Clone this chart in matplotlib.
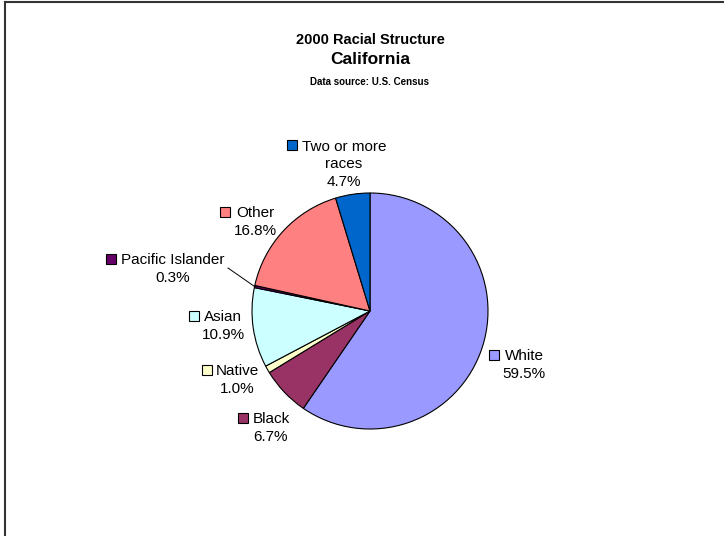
import numpy as np
import matplotlib
matplotlib.use("Agg")
import matplotlib.pyplot as plt
from matplotlib.lines import Line2D

plt.rcParams['font.family'] = ['Liberation Sans', 'DejaVu Sans']

# data (clockwise from 12 o'clock)
races = ["White", "Black", "Native", "Asian", "Pacific Islander", "Other", "Two or more\nraces"]
shares = [59.5, 6.7, 1.0, 10.9, 0.3, 16.8, 4.7]
colors = ["#9999FF", "#993366", "#FFFFCC", "#CCFFFF", "#660066", "#FF8080", "#0066CC"]

W, H = 724, 536

# label layout in pixels: text center x, first line y, key center x
label_pos = {
    "White": (524, 355, 494),
    "Black": (271, 418, 243),
    "Native": (237, 370, 207),
    "Asian": (223, 316, 194),
    "Pacific Islander": (173, 259, 111),
    "Other": (255, 212, 225),
    "Two or more\nraces": (344, 145, 292),
}
step = 19.5

fig = plt.figure(figsize=(W / 100, H / 100), dpi=100)
ax = fig.add_axes([0, 0, 1, 1])
ax.set_xlim(0, W)
ax.set_ylim(0, H)
ax.set_aspect('equal')
ax.axis('off')

cx, cy, r = 370, H - 311, 118
wedges, _ = ax.pie(shares, colors=colors, startangle=90, counterclock=False,
                   center=(cx, cy), radius=r,
                   wedgeprops=dict(edgecolor='black', linewidth=0.8))
ax.set_xlim(0, W)
ax.set_ylim(0, H)

for name, val, col in zip(races, shares, colors):
    tx, ty, kx = label_pos[name]
    text = f"{name}\n{val:.1f}%"
    n = text.count("\n") + 1
    ax.text(tx, H - (ty + (n - 1) * step / 2), text, ha='center', va='center',
            fontsize=11, linespacing=1.36)
    ax.plot(kx, H - ty, marker='s', markersize=6.5, markerfacecolor=col,
            markeredgecolor='black', markeredgewidth=0.8)

# leader line for the thin Pacific Islander slice
w = wedges[races.index("Pacific Islander")]
mid = np.deg2rad((w.theta1 + w.theta2) / 2)
ax.plot([228, cx + r * np.cos(mid)], [H - 268, cy + r * np.sin(mid)],
        color='black', linewidth=0.7)

# titles
ax.text(370, H - 40, "2000 Racial Structure", ha='center', va='center',
        fontsize=10.5, fontweight='bold')
ax.text(370, H - 60, "California", ha='center', va='center',
        fontsize=12.5, fontweight='bold')
ax.text(370, H - 82, "Data source: U.S. Census", ha='center', va='center',
        fontsize=7, fontweight='bold')

# chart area frame
fig.add_artist(Line2D([5 / W, 5 / W], [0, 1 - 2 / H], color='#333333', linewidth=1.5))
fig.add_artist(Line2D([5 / W, 1], [1 - 2 / H, 1 - 2 / H], color='#333333', linewidth=1.5))

fig.savefig("out.png", dpi=100)
